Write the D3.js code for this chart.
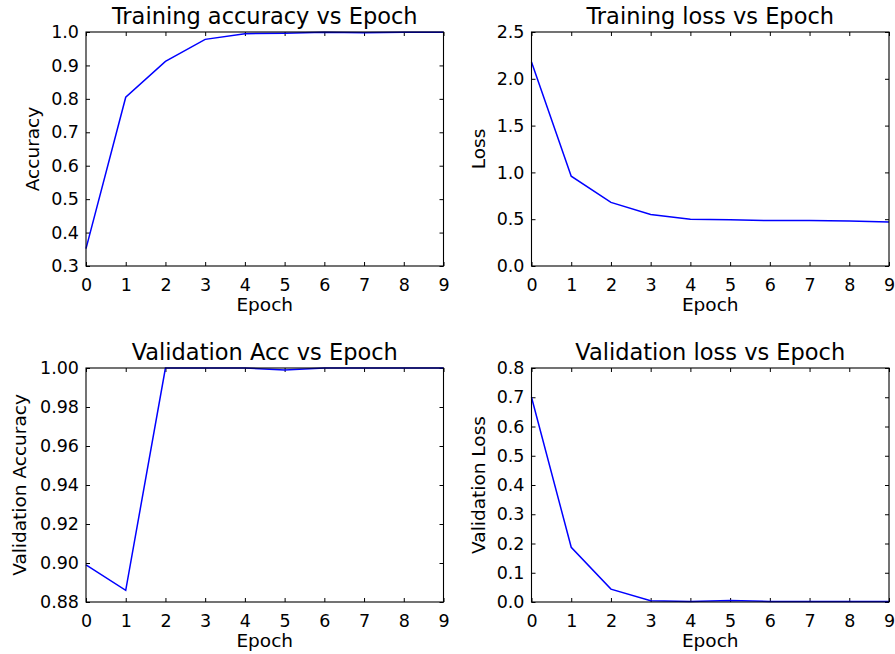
<!DOCTYPE html>
<html>
<head>
<meta charset="utf-8">
<script src="https://cdn.jsdelivr.net/npm/d3@7"></script>
<style>
  body { margin: 0; background: #fff; }
  text { font-family: "DejaVu Sans", sans-serif; fill: #000; }
</style>
</head>
<body>
<div id="chart"></div>
<script>
// epochs shared by all four panels
const epochs = [0, 1, 2, 3, 4, 5, 6, 7, 8, 9];

// values
const trainAcc = [0.352, 0.805, 0.912, 0.978, 0.995, 0.996, 0.999, 0.998, 0.999, 0.999];
const trainLoss = [2.18, 0.96, 0.68, 0.55, 0.50, 0.495, 0.485, 0.485, 0.48, 0.47];
const valAcc = [0.899, 0.886, 1.0, 1.0, 1.0, 0.999, 1.0, 1.0, 1.0, 1.0];
const valLoss = [0.70, 0.187, 0.044, 0.004, 0.002, 0.005, 0.002, 0.002, 0.002, 0.002];

const xTicks = [0, 1, 2, 3, 4, 5, 6, 7, 8, 9];
const trainAccTicks = [0.3, 0.4, 0.5, 0.6, 0.7, 0.8, 0.9, 1.0];
const trainLossTicks = [0.0, 0.5, 1.0, 1.5, 2.0, 2.5];
const valAccTicks = [0.88, 0.90, 0.92, 0.94, 0.96, 0.98, 1.00];
const valLossTicks = [0.0, 0.1, 0.2, 0.3, 0.4, 0.5, 0.6, 0.7, 0.8];

const width = 895;
const height = 654;

const svg = d3.select('#chart')
    .append('svg')
    .attr('width', width)
    .attr('height', height);

// panel layout in pixels
const panels = [
    {title: 'Training accuracy vs Epoch', ylabel: 'Accuracy', values: trainAcc, ticks: trainAccTicks, fmt: '.1f',
     left: 86, top: 32, labelX: 39},
    {title: 'Training loss vs Epoch', ylabel: 'Loss', values: trainLoss, ticks: trainLossTicks, fmt: '.1f',
     left: 531.5, top: 32, labelX: 485},
    {title: 'Validation Acc vs Epoch', ylabel: 'Validation Accuracy', values: valAcc, ticks: valAccTicks, fmt: '.2f',
     left: 86, top: 368, labelX: 26},
    {title: 'Validation loss vs Epoch', ylabel: 'Validation Loss', values: valLoss, ticks: valLossTicks, fmt: '.1f',
     left: 531.5, top: 368, labelX: 485}
];

const pw = 357.5;
const ph = 234;
const tickLen = 4;

panels.forEach(p => {
    const g = svg.append('g').attr('transform', `translate(${p.left},${p.top})`);

    const x = d3.scaleLinear().domain([0, 9]).range([0, pw]);
    const y = d3.scaleLinear()
        .domain([p.ticks[0], p.ticks[p.ticks.length - 1]])
        .range([ph, 0]);

    // bottom axis with labels, ticks pointing inward
    const bottom = g.append('g')
        .attr('transform', `translate(0,${ph})`)
        .call(d3.axisBottom(x).tickValues(xTicks).tickSize(-tickLen).tickPadding(8).tickFormat(d3.format('d')));
    // top axis: only ticks
    const top = g.append('g')
        .call(d3.axisTop(x).tickValues(xTicks).tickSize(-tickLen).tickFormat(''));
    // left axis with labels
    const left = g.append('g')
        .call(d3.axisLeft(y).tickValues(p.ticks).tickSize(-tickLen).tickPadding(7).tickFormat(d3.format(p.fmt)));
    // right axis: only ticks
    const right = g.append('g')
        .attr('transform', `translate(${pw},0)`)
        .call(d3.axisRight(y).tickValues(p.ticks).tickSize(-tickLen).tickFormat(''));

    [bottom, top, left, right].forEach(a => {
        a.select('.domain').remove();
        a.selectAll('line').attr('stroke', '#000').attr('stroke-width', 1);
        a.selectAll('text')
            .style('font-family', '"DejaVu Sans", sans-serif')
            .style('font-size', '17.5px')
            .attr('fill', '#111');
    });
    bottom.selectAll('text').attr('dy', '0.95em');

    // data line
    const line = d3.line()
        .x((d, i) => x(epochs[i]))
        .y(d => y(d));

    g.append('path')
        .datum(p.values)
        .attr('fill', 'none')
        .attr('stroke', '#0000ff')
        .attr('stroke-width', 1.5)
        .attr('d', line);

    // frame
    g.append('rect')
        .attr('width', pw)
        .attr('height', ph)
        .attr('fill', 'none')
        .attr('stroke', '#000')
        .attr('stroke-width', 1.1);

    // title
    g.append('text')
        .attr('x', pw / 2)
        .attr('y', -8)
        .attr('text-anchor', 'middle')
        .style('font-size', '22.5px')
        .attr('fill', '#111')
        .text(p.title);

    // x label
    g.append('text')
        .attr('x', pw / 2)
        .attr('y', ph + 45)
        .attr('text-anchor', 'middle')
        .style('font-size', '18.5px')
        .attr('fill', '#111')
        .text('Epoch');

    // y label
    svg.append('text')
        .attr('transform', `translate(${p.labelX},${p.top + ph / 2}) rotate(-90)`)
        .attr('text-anchor', 'middle')
        .style('font-size', '18.5px')
        .attr('fill', '#111')
        .text(p.ylabel);
});
</script>
</body>
</html>
